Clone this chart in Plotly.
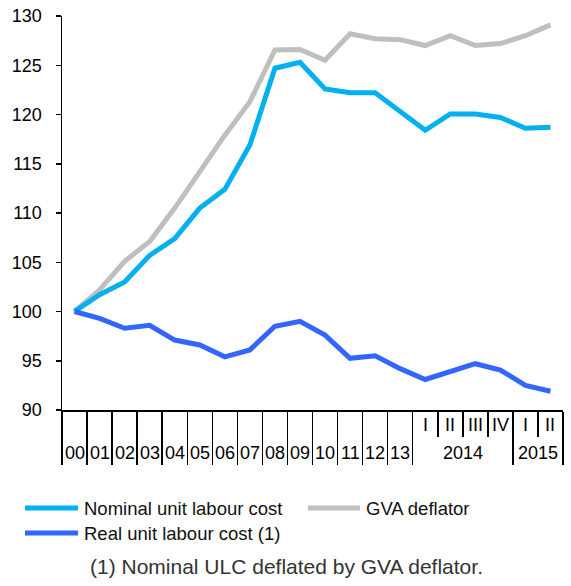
import plotly.graph_objects as go

# ---------------- data ----------------
annual_labels = ["00", "01", "02", "03", "04", "05", "06", "07", "08", "09",
                 "10", "11", "12", "13"]
quarter_groups = [("2014", ["I", "II", "III", "IV"]),
                  ("2015", ["I", "II"])]

nominal_ulc = [100.0, 101.7, 103.0, 105.7, 107.4, 110.5, 112.4, 116.9, 124.7, 125.3,
               122.6, 122.2, 122.2, 120.3, 118.4, 120.05, 120.05, 119.7, 118.6, 118.7]
gva_deflator = [100.0, 102.2, 105.1, 107.1, 110.5, 114.2, 117.9, 121.3, 126.55, 126.6,
                125.5, 128.2, 127.7, 127.6, 127.0, 128.0, 127.0, 127.2, 128.0, 129.1]
real_ulc = [100.0, 99.3, 98.3, 98.6, 97.1, 96.6, 95.4, 96.1, 98.5, 99.0,
            97.6, 95.25, 95.5, 94.2, 93.1, 93.96, 94.7, 94.06, 92.5, 91.9]

y_ticks = [90, 95, 100, 105, 110, 115, 120, 125, 130]

series = [
    ("GVA deflator", gva_deflator, "#BFBFBF"),
    ("Nominal unit labour cost", nominal_ulc, "#00B0F0"),
    ("Real unit labour cost (1)", real_ulc, "#3366FF"),
]

# ---------------- layout constants (window pixels) ----------------
W, H = 571, 586
PLOT_L, PLOT_R, PLOT_T, PLOT_B = 62, 563, 16, 410   # plot area in px
ML, MR, MT, MB = PLOT_L, W - PLOT_R, PLOT_T, H - PLOT_B
PW, PH = W - ML - MR, H - MT - MB
FONT = "Liberation Sans, Arial, sans-serif"


def px_x(p):
    return (p - PLOT_L) / PW


def px_y(p):
    return (PLOT_B - p) / PH


n = len(annual_labels) + sum(len(q) for _, q in quarter_groups)
xs = list(range(n))

fig = go.Figure()
for name, vals, col in series:
    fig.add_trace(go.Scatter(x=xs, y=vals, mode="lines", name=name,
                             line=dict(color=col, width=5),
                             showlegend=False, hoverinfo="skip"))

# ---------------- category axis structure ----------------
full_div = [i - 0.5 for i in range(len(annual_labels) + 1)]
short_div = []
annotations = []
for i, lab in enumerate(annual_labels):
    annotations.append(dict(x=i, y=0, xref="x", yref="paper", text=lab,
                            showarrow=False, yshift=-43, yanchor="middle",
                            font=dict(family=FONT, size=18, color="#000")))
start = len(annual_labels)
for year, qs in quarter_groups:
    for j, q in enumerate(qs):
        annotations.append(dict(x=start + j, y=0, xref="x", yref="paper", text=q,
                                showarrow=False, yshift=-15, yanchor="middle",
                                font=dict(family=FONT, size=18, color="#000")))
        if j > 0:
            short_div.append(start + j - 0.5)
    annotations.append(dict(x=start + (len(qs) - 1) / 2, y=0, xref="x", yref="paper",
                            text=year, showarrow=False, yshift=-43, yanchor="middle",
                            font=dict(family=FONT, size=18, color="#000")))
    start += len(qs)
    full_div.append(start - 0.5)

# ---------------- manual legend ----------------
shapes = []
legend_items = [
    ("Nominal unit labour cost", "#00B0F0", 25, 78, 508),
    ("GVA deflator", "#BFBFBF", 308, 360, 508),
    ("Real unit labour cost (1)", "#3366FF", 25, 78, 533),
]
for text, col, x0, x1, yy in legend_items:
    shapes.append(dict(type="line", xref="paper", yref="paper",
                       x0=px_x(x0), x1=px_x(x1), y0=px_y(yy), y1=px_y(yy),
                       line=dict(color=col, width=5)))
    annotations.append(dict(x=px_x(x1 + 4), y=px_y(yy), xref="paper", yref="paper",
                            text=text, showarrow=False, xanchor="left", yanchor="middle",
                            font=dict(family=FONT, size=18.5, color="#111")))

annotations.append(dict(x=px_x(286.5), y=px_y(566), xref="paper", yref="paper",
                        text="(1) Nominal ULC deflated by GVA deflator.",
                        showarrow=False, xanchor="center", yanchor="middle",
                        font=dict(family=FONT, size=21, color="#333")))

fig.update_layout(
    template="none",
    width=W, height=H,
    margin=dict(l=ML, r=MR, t=MT, b=MB, pad=0, autoexpand=False),
    paper_bgcolor="white", plot_bgcolor="white",
    font=dict(family=FONT, size=18, color="#000"),
    showlegend=False,
    xaxis=dict(range=[-0.5, n - 0.5], showgrid=False, zeroline=False,
               automargin=False,
               showline=True, linecolor="#000", linewidth=1.5,
               tickmode="array", tickvals=full_div, ticks="outside",
               ticklen=53, tickwidth=1.5, tickcolor="#000",
               showticklabels=False,
               minor=dict(tickmode="array", tickvals=short_div, ticks="outside",
                          ticklen=25, tickwidth=1.5, tickcolor="#000")),
    yaxis=dict(range=[90, 130], tickmode="array", tickvals=y_ticks,
               automargin=False, ticklabeloverflow="allow",
               showgrid=False, zeroline=False, showline=True,
               linecolor="#000", linewidth=1.5, ticks="outside", ticklen=5,
               tickwidth=1.5, tickcolor="#000", ticklabelstandoff=10,
               tickfont=dict(family=FONT, size=18, color="#000")),
    shapes=shapes,
    annotations=annotations,
)

fig.write_html(
    "out.html",
    config={"displayModeBar": False, "staticPlot": True},
    post_script="document.body.style.margin='0';document.body.style.overflow='hidden';",
)
